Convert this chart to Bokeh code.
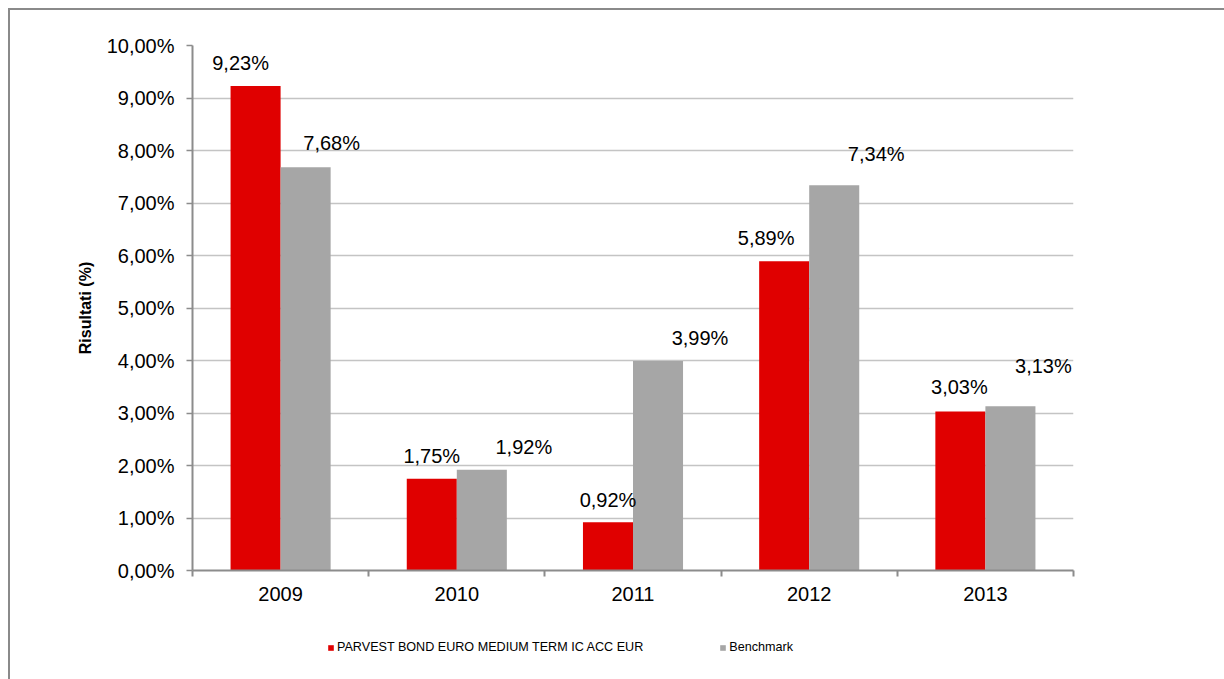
import numpy as np
from bokeh.plotting import figure
from bokeh.layouts import column
from bokeh.core.properties import value
from bokeh.models import (ColumnDataSource, FixedTicker, LabelSet, Legend,
                          LegendItem, Range1d)
from bokeh.embed import file_html
from bokeh.resources import INLINE

# ---- data ----
years = ["2009", "2010", "2011", "2012", "2013"]
fund = [9.23, 1.75, 0.92, 5.89, 3.03]
bench = [7.68, 1.92, 3.99, 7.34, 3.13]
fund_name = "PARVEST BOND EURO MEDIUM TERM IC ACC EUR"
bench_name = "Benchmark"
y_title = "Risultati (%)"
y_ticks = list(range(0, 11))
y_tick_labels = [f"{t},00%" for t in y_ticks]

# ---- label placement (pixels) ----
fund_dx = [-15, 0, 0, -18, -1]
fund_dy = [23, 23, 22, 23, 24]
bench_dx = [26, 42, 42, 42, 33]
bench_dy = [24, 23, 23, 31, 40]

RED = "#E00000"
GRAY = "#A6A6A6"
AXIS = "#8C8C8C"
GRID = "#C4C4C4"
FONT = "Liberation Sans"

bw = 0.284
idx = np.arange(len(years)) + 0.5


def fmt(v):
    return f"{v:.2f}".replace(".", ",") + "%"


src_f = ColumnDataSource(dict(x=idx - bw / 2, y=fund, t=[fmt(v) for v in fund],
                              dx=fund_dx, dy=fund_dy))
src_b = ColumnDataSource(dict(x=idx + bw / 2, y=bench, t=[fmt(v) for v in bench],
                              dx=bench_dx, dy=bench_dy))

p = figure(width=1214, height=615, output_backend="svg", toolbar_location=None,
           x_range=Range1d(0, len(years)), y_range=Range1d(0, 10),
           min_border_left=182, min_border_right=151, min_border_top=35,
           min_border_bottom=55)
p.outline_line_color = None
p.background_fill_color = "white"
p.border_fill_color = "white"

p.vbar(x="x", top="y", width=bw, source=src_f, color=RED, line_color=None)
p.vbar(x="x", top="y", width=bw, source=src_b, color=GRAY, line_color=None)

for s in (src_f, src_b):
    p.add_layout(LabelSet(x="x", y="y", text="t", source=s, x_offset="dx",
                          y_offset="dy", text_align="center",
                          text_baseline="middle", text_font=value(FONT),
                          text_font_size="20px", text_color="black"))

# x axis
p.xaxis.ticker = FixedTicker(ticks=list(idx), minor_ticks=list(range(len(years) + 1)))
p.xaxis.major_label_overrides = {float(v): y for v, y in zip(idx, years)}
p.xaxis.major_tick_line_color = None
p.xaxis.minor_tick_line_color = AXIS
p.xaxis.minor_tick_out = 6
p.xaxis.minor_tick_in = 0
p.xaxis.minor_tick_line_width = 2
p.xaxis.major_label_standoff = 10
p.xaxis.major_label_text_font_size = "20px"
p.xaxis.major_label_text_font = FONT
p.xaxis.major_label_text_color = "black"
p.xaxis.axis_line_color = AXIS
p.xaxis.axis_line_width = 2

# y axis
p.yaxis.ticker = FixedTicker(ticks=y_ticks)
p.yaxis.major_label_overrides = {t: l for t, l in zip(y_ticks, y_tick_labels)}
p.yaxis.minor_tick_line_color = None
p.yaxis.major_tick_out = 6
p.yaxis.major_tick_in = 0
p.yaxis.major_tick_line_color = AXIS
p.yaxis.major_tick_line_width = 1.5
p.yaxis.major_label_standoff = 12
p.yaxis.major_label_text_font_size = "20px"
p.yaxis.major_label_text_font = FONT
p.yaxis.major_label_text_color = "black"
p.yaxis.axis_line_color = AXIS
p.yaxis.axis_line_width = 2
p.yaxis.axis_label = y_title
p.yaxis.axis_label_text_font = FONT
p.yaxis.axis_label_text_font_size = "16px"
p.yaxis.axis_label_text_font_style = "bold"
p.yaxis.axis_label_text_color = "black"
p.yaxis.axis_label_standoff = 10

p.xgrid.grid_line_color = None
p.ygrid.grid_line_color = GRID
p.ygrid.grid_line_width = 1.5

# ---- legend strip (separate figure below the chart) ----
lg = figure(width=1214, height=54, output_backend="svg", toolbar_location=None,
            x_range=Range1d(0, 1), y_range=Range1d(0, 1),
            min_border=0, min_border_left=0, min_border_right=0,
            min_border_top=0, min_border_bottom=0)
lg.axis.visible = False
lg.grid.visible = False
lg.outline_line_color = None
lg.border_fill_color = "white"
# legend key proxies, placed outside the visible range
k1 = lg.vbar(x=[-5], top=[0], width=bw, color=RED, line_color=None)
k2 = lg.vbar(x=[-5], top=[0], width=bw, color=GRAY, line_color=None)
legend = Legend(items=[LegendItem(label=fund_name, renderers=[k1]),
                       LegendItem(label=bench_name, renderers=[k2])],
                orientation="horizontal", location=(135, 25),
                glyph_width=7, glyph_height=7, label_standoff=3, spacing=76,
                padding=0, margin=0, label_height=14,
                label_text_font=FONT, label_text_font_size="12.6px",
                label_text_color="black", border_line_color=None,
                background_fill_alpha=0)
lg.add_layout(legend, "center")

page = column(p, lg, spacing=0)
page.styles = {"border-top": "2px solid #8A8A8A", "border-left": "2px solid #8A8A8A",
               "margin-left": "8px", "margin-top": "8px"}

open("out.html", "w").write(file_html(page, INLINE))
